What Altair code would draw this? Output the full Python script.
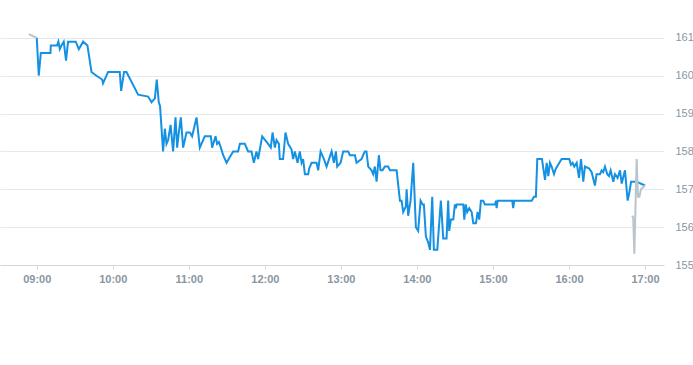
import altair as alt
import pandas as pd

# minutes after 09:00 and price
blue_min = [0, 1.6, 3.2, 10.8, 11.1, 16.0, 17.1, 18.2, 19.5, 21.3, 23.1, 24.7, 30.8, 33.2, 36.6, 40.0,
            43.2, 47.1, 51.6, 52.3, 56.3, 65.5, 66.6, 68.9, 70.8, 80.0, 87.9, 90.6, 93.2, 94.7, 96.3,
            97.3, 99.7, 101.1, 102.4, 103.7, 105.6, 107.6, 109.5, 110.8, 112.1, 113.7, 115.5, 118.2,
            120.8, 122.6, 126.1, 128.7, 132.6, 137.4, 138.4, 141.1, 142.3, 143.7, 145.3, 147.1, 149.8,
            152.4, 155.0, 158.9, 160.3, 164.2, 166.8, 169.5, 171.3, 173.4, 174.7, 177.9, 182.6, 184.7,
            186.1, 187.9, 189.2, 191.1, 191.8, 194.4, 196.3, 198.4, 201.1, 202.3, 203.7, 205.8, 207.6,
            209.0, 210.2, 211.6, 214.2, 215.0, 216.9, 220.8, 222.1, 224.0, 226.6, 228.7, 232.7, 234.5,
            236.1, 237.1, 239.8, 241.8, 245.8, 247.1, 251.1, 252.4, 256.3, 258.9, 260.2, 261.6, 264.2,
            265.5, 266.8, 268.2, 270.0, 271.3, 272.9, 274.7, 277.3, 278.7, 284.0, 286.6, 287.9, 289.2,
            291.3, 291.9, 293.1, 295.0, 297.1, 299.2, 301.0, 302.9, 304.5, 305.5, 307.1, 308.9, 310.3,
            312.1, 313.4, 316.1, 318.9, 320.8, 323.4, 324.7, 325.5, 326.8, 328.7, 330.0, 330.8, 331.3,
            336.6, 337.4, 338.5, 339.7, 341.3, 343.2, 344.5, 346.6, 347.9, 349.2, 350.5, 352.3, 353.7,
            361.6, 362.4, 362.9, 363.7, 375.2, 376.0, 376.8, 390.6, 392.4, 393.9, 395.0, 398.7, 401.1,
            402.4, 403.7, 405.0, 406.3, 408.2, 409.7, 411.5, 414.2, 420.2, 421.6, 422.9, 424.2, 426.1,
            427.9, 429.5, 431.3, 432.6, 436.0, 437.9, 440.5, 441.8, 444.5, 445.8, 447.0, 448.4, 450.2,
            451.6, 452.9, 455.0, 456.3, 458.4, 460.3, 461.6, 464.2, 466.3, 467.6, 469.0, 473.4, 480.0]
blue_px = [161.0, 160.0, 160.6, 160.6, 160.8, 160.8, 160.9, 160.7, 160.8, 160.9, 160.4, 160.9, 160.9,
           160.7, 160.9, 160.8, 160.1, 160.0, 159.9, 159.8, 160.1, 160.1, 159.6, 160.1, 160.1, 159.5,
           159.45, 159.3, 159.4, 159.9, 159.3, 159.2, 158.0, 158.6, 158.2, 158.3, 158.7, 158.0, 158.9,
           158.1, 158.5, 158.9, 158.1, 158.5, 158.5, 158.4, 158.9, 158.1, 158.4, 158.4, 158.1, 158.4,
           158.2, 158.25, 158.1, 157.9, 157.7, 157.85, 158.0, 158.0, 158.2, 158.2, 158.0, 158.0, 157.7,
           158.0, 157.8, 158.4, 158.2, 158.1, 158.5, 158.1, 158.3, 158.2, 157.8, 157.8, 158.5, 158.2,
           158.05, 157.8, 158.0, 157.7, 158.0, 157.7, 157.8, 157.4, 157.4, 157.55, 157.7, 157.7, 157.5,
           158.0, 157.8, 157.6, 158.0, 157.7, 158.0, 157.6, 157.7, 158.0, 158.0, 157.9, 157.9, 157.7,
           157.8, 158.0, 158.0, 157.6, 157.5, 157.4, 157.6, 157.2, 157.9, 157.5, 157.5, 157.6, 157.6,
           157.5, 157.5, 156.7, 156.7, 156.4, 156.55, 157.0, 156.3, 156.7, 157.7, 156.0, 155.9, 156.7,
           156.6, 156.6, 155.75, 155.6, 155.4, 156.8, 155.4, 155.4, 156.7, 155.7, 155.7, 156.7, 155.9,
           156.2, 156.2, 156.6, 156.5, 156.6, 156.6, 156.2, 156.6, 156.4, 156.5, 156.4, 156.1, 156.1,
           156.4, 156.2, 156.7, 156.7, 156.6, 156.6, 156.7, 156.5, 156.7, 156.7, 156.5, 156.7, 156.7,
           156.8, 156.8, 157.8, 157.8, 157.25, 157.7, 157.35, 157.7, 157.6, 157.4, 157.55, 157.65,
           157.8, 157.8, 157.65, 157.7, 157.6, 157.7, 157.3, 157.8, 157.2, 157.6, 157.55, 157.45, 157.1,
           157.4, 157.4, 157.5, 157.45, 157.6, 157.4, 157.35, 157.5, 157.2, 157.4, 157.3, 157.5,
           157.15, 157.5, 156.7, 156.9, 157.2, 157.2, 157.1]

pre_min = [-6.3, 0]
pre_px = [161.1, 161.0]
post_min = [469.9, 470.7, 471.6, 473.4, 474.5, 475.6, 476.8, 480.0]
post_px = [156.3, 156.25, 155.3, 157.8, 156.8, 156.8, 157.0, 157.1]

y_ticks = [155, 156, 157, 158, 159, 160, 161]
x_tick_hours = [9, 10, 11, 12, 13, 14, 15, 16, 17]

n = min(len(blue_min), len(blue_px))
blue_min = blue_min[:n]
blue_px = blue_px[:n]

base = pd.Timestamp("2024-01-02 09:00:00")


def to_time(mins):
    return [(base + pd.Timedelta(minutes=m)).strftime("%Y-%m-%dT%H:%M:%S") for m in mins]


blue_df = pd.DataFrame({"t": to_time(blue_min), "price": blue_px})
grey_df = pd.DataFrame({
    "t": to_time(pre_min) + to_time(post_min),
    "price": pre_px + post_px,
    "seg": ["pre"] * len(pre_min) + ["post"] * len(post_min),
})

label_color = "#8a96a2"


def dt(h, m=0):
    return alt.DateTime(year=2024, month=1, date=2, hours=h, minutes=m)


x_scale = alt.Scale(domain=[dt(8, 31), dt(17, 15)])
y_scale = alt.Scale(domain=[155, 162], nice=False, zero=False)

x_enc = alt.X("t:T", scale=x_scale, title=None,
              axis=alt.Axis(format="%H:%M", values=[dt(h) for h in x_tick_hours],
                            grid=False, domainColor="#cfd8e0", tickColor="#cfd8e0", tickSize=4,
                            labelColor=label_color, labelFontWeight="bold", labelFontSize=11,
                            labelFont="Liberation Sans", labelPadding=4))
y_enc = alt.Y("price:Q", scale=y_scale, title=None,
              axis=alt.Axis(orient="right", values=y_ticks, grid=True, gridColor="#e6e9ec",
                            domain=False, ticks=False, labelPadding=11, labelColor=label_color,
                            labelFontSize=11, labelFont="Liberation Sans"))

blue = alt.Chart(blue_df).mark_line(color="#1591e3", strokeWidth=2).encode(x=x_enc, y=y_enc)
grey = alt.Chart(grey_df).mark_line(color="#b9c4cd", strokeWidth=2).encode(
    x="t:T", y="price:Q", detail="seg:N")

chart = alt.layer(blue, grey).properties(
    width=664, height=265,
    autosize=alt.AutoSizeParams(type="none"),
    padding={"left": 0, "top": 0, "right": 29, "bottom": 40},
).configure_view(stroke=None)

chart.save("out.html", embed_options={"renderer": "svg", "actions": False})
